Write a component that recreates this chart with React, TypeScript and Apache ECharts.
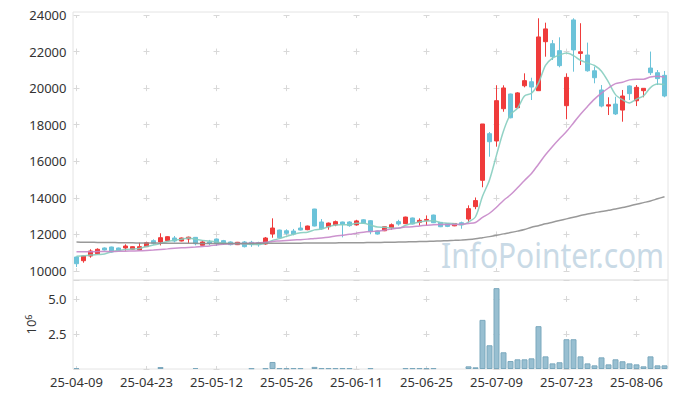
import React, { useEffect, useRef } from 'react';
import * as echarts from 'echarts';

const dates = ['25-04-09','25-04-10','25-04-11','25-04-14','25-04-15','25-04-16','25-04-17','25-04-18','25-04-21','25-04-22',
'25-04-23','25-04-24','25-04-25','25-04-28','25-04-29','25-04-30','25-05-02','25-05-07','25-05-08','25-05-09',
'25-05-12','25-05-13','25-05-14','25-05-15','25-05-16','25-05-19','25-05-20','25-05-21','25-05-22','25-05-23',
'25-05-26','25-05-27','25-05-28','25-05-29','25-05-30','25-06-02','25-06-04','25-06-05','25-06-09','25-06-10',
'25-06-11','25-06-12','25-06-13','25-06-16','25-06-17','25-06-18','25-06-19','25-06-20','25-06-23','25-06-24',
'25-06-25','25-06-26','25-06-27','25-06-30','25-07-01','25-07-02','25-07-03','25-07-04','25-07-07','25-07-08',
'25-07-09','25-07-10','25-07-11','25-07-14','25-07-15','25-07-16','25-07-17','25-07-18','25-07-21','25-07-22',
'25-07-23','25-07-24','25-07-25','25-07-28','25-07-29','25-07-30','25-07-31','25-08-01','25-08-04','25-08-05',
'25-08-06','25-08-07','25-08-08','25-08-11','25-08-12'];

const opens = [10766,10563,10820,10946,11258,11313,11258,11258,11187,11150,
11330,11658,11587,11658,11805,11640,11750,11840,11405,11590,
11750,11660,11587,11440,11587,11570,11550,11476,12020,12240,
12200,12185,12350,12260,13390,12680,12420,12520,12680,12680,
12520,12800,12750,12190,12200,12370,12700,12590,12900,12660,
12770,13060,12660,12590,12470,12640,12840,13520,14960,17510,
17110,18875,19680,18930,20130,20350,19860,22540,22430,22050,
19040,23730,21900,21810,20950,19900,19020,19130,18800,20120,
19310,19860,21100,20845,20700];

const closes = [10399,10820,11094,11187,11148,11039,11112,11367,11330,11330,
11548,11515,11822,11876,11640,11805,11850,11490,11587,11500,
11500,11515,11440,11570,11330,11440,11440,11805,12350,11820,
12060,12020,12240,12460,12460,12310,12620,12700,12550,12480,
12740,12620,12150,12020,12420,12530,12570,12950,12570,12770,
12820,12640,12420,12440,12600,12530,13410,13850,18040,17070,
19315,20010,18380,19740,20410,20060,22800,23240,21720,21230,
20590,22090,21990,20950,20570,19020,19090,18590,19570,19700,
20045,19990,20845,20520,19570];

const lows = [10219,10454,10727,10913,11120,11010,11090,11112,11170,11130,
11310,11440,11400,11640,11570,11620,11515,11405,11390,11405,
11367,11440,11400,11420,11290,11320,11330,11440,11820,11800,
11980,11950,12220,12230,12440,12260,12260,12450,11840,12420,
12480,12600,12010,11990,12180,12260,12480,12570,12550,12480,
12480,12620,12400,12400,12450,12310,12660,13380,14580,16250,
16800,18710,18350,18900,20045,19350,19860,21720,21540,21140,
18300,20900,21265,20900,20265,18950,18530,18530,18165,19350,
19020,19500,20720,20170,19500];

const highs = [10790,10840,11187,11241,11290,11330,11280,11460,11350,11548,
11603,11733,12062,11900,11914,11830,11880,11860,11680,11700,
11780,11700,11620,11590,11640,11650,11600,11860,12880,12260,
12280,12300,12680,12480,13400,12840,12650,12760,12700,12720,
12800,12830,12780,12210,12440,12600,12800,12970,12920,12880,
13040,13080,12680,12620,12620,12700,13590,14020,18040,17600,
20155,20155,19700,19780,20810,20570,23820,23580,22630,22780,
20810,23820,23550,22490,21170,20170,19500,19530,19900,20150,
20170,20000,22000,20990,20940];

// volume in millions (10^6)
const volumes = [0.07,0,0,0,0,0,0,0,0,0,
0,0,0.14,0,0,0,0,0.07,0,0,
0,0,0,0,0,0.05,0,0.05,0.5,0.06,
0.06,0.06,0.06,0,0.15,0.06,0.06,0.06,0.06,0.06,
0,0,0.06,0,0,0,0,0.06,0.06,0.06,
0.06,0.06,0,0,0,0,0.19,0.12,3.5,1.69,
5.76,1.19,0.57,0.69,0.69,0.76,3.05,0.9,0.4,0.48,
2.12,2.12,0.9,0.4,0.26,0.83,0.33,0.69,0.55,0.4,
0.33,0.19,0.9,0.26,0.26];

const ma5 = [10800,10830,10870,10900,10930,11058,11116,11171,11199,11236,
11337,11418,11509,11618,11680,11732,11799,11732,11674,11646,
11585,11518,11508,11505,11471,11459,11444,11517,11673,11771,
11895,12011,12098,12120,12248,12298,12418,12510,12528,12532,
12618,12618,12508,12402,12390,12348,12338,12498,12608,12678,
12736,12750,12644,12618,12584,12526,12680,12966,14086,14980,
16337,17657,18563,18903,19571,19720,20278,21250,21646,21810,
21916,21774,21524,21370,21238,20924,20324,19644,19368,19194,
19399,19579,20030,20220,20194];

const ma20 = [11050,11050,11055,11060,11065,11070,11075,11085,11095,11105,
11125,11150,11180,11210,11240,11265,11290,11315,11345,11373,
11428,11463,11480,11499,11508,11528,11545,11567,11618,11642,
11668,11693,11714,11743,11784,11809,11848,11908,11957,12006,
12068,12123,12158,12181,12235,12290,12346,12404,12415,12462,
12500,12531,12540,12539,12546,12557,12597,12654,12929,13158,
13487,13856,14168,14554,14953,15330,15841,16356,16813,17236,
17625,18097,18576,19001,19400,19724,20008,20245,20322,20453,
20490,20489,20612,20651,20609];

const ma120 = [11580,11575,11570,11565,11560,11555,11550,11545,11540,11535,
11530,11527,11524,11521,11518,11515,11513,11511,11510,11509,
11508,11508,11508,11508,11509,11510,11511,11512,11514,11516,
11518,11520,11523,11526,11529,11532,11535,11538,11541,11544,
11547,11550,11555,11560,11566,11572,11580,11590,11600,11610,
11620,11632,11645,11660,11675,11695,11720,11760,11820,11880,
11950,12030,12100,12180,12270,12390,12480,12580,12670,12760,
12850,12940,13030,13120,13190,13250,13320,13390,13470,13560,
13650,13740,13830,13950,14065];

const priceRange = [10000, 24000];
const priceStep = 2000;
const volumeTickLabels = [2.5, 5.0];
const watermark = 'InfoPointer.com';

export default function App() {
  const ref = useRef<HTMLDivElement>(null);
  useEffect(() => {
    document.body.style.margin = '0';
    const chart = echarts.init(ref.current!, null, { renderer: 'svg' });
    const font = '"Noto Sans", sans-serif';
    const textColor = '#333';
    const frame = '#e4e4e4';
    const plus = '#d8d8d8';
    const padded = ['', ...dates, ''];
    const ohlc = dates.map((_, i) => [opens[i], closes[i], lows[i], highs[i]]);
    const volData = volumes.map((v) => (v > 0 ? v : '-'));
    const tickEvery = (i: number) => i % 10 === 1;
    const pxPer = (priceRange[1] - priceRange[0]) / 256;

    chart.setOption({
      animation: false,
      textStyle: { fontFamily: font },
      grid: [
        { left: 73, top: 12, width: 595, height: 268, show: true, borderColor: frame, borderWidth: 1, backgroundColor: 'transparent' },
        { left: 69.5, top: 15, width: 602, height: 256 },
        { left: 73, top: 280, width: 595, height: 89, show: true, borderColor: frame, borderWidth: 1, backgroundColor: 'transparent' },
        { left: 69.5, top: 280, width: 602, height: 89 },
      ],
      xAxis: [
        { gridIndex: 0, type: 'category', data: dates, boundaryGap: true, show: false },
        {
          gridIndex: 1, type: 'category', data: padded, boundaryGap: false,
          axisLine: { show: false }, axisTick: { show: false }, axisLabel: { show: false },
          splitLine: { show: true, interval: tickEvery, lineStyle: { color: plus, width: 1, type: [6, 256 / 7 - 6], dashOffset: 3 } },
        },
        { gridIndex: 2, type: 'category', data: dates, boundaryGap: true, show: false },
        {
          gridIndex: 3, type: 'category', data: padded, boundaryGap: false,
          axisLine: { show: false }, axisTick: { show: false },
          axisLabel: { interval: tickEvery, margin: 6, color: textColor, fontSize: 13, fontFamily: font },
          splitLine: { show: true, interval: tickEvery, lineStyle: { color: plus, width: 1, type: [6, 29], dashOffset: 19 } },
        },
      ],
      yAxis: [
        { gridIndex: 0, type: 'value', min: priceRange[0] - 9 * pxPer, max: priceRange[1] + 3 * pxPer, show: false },
        {
          gridIndex: 1, type: 'value', min: priceRange[0], max: priceRange[1], interval: priceStep,
          axisLine: { show: false }, axisTick: { show: false },
          axisLabel: { margin: 3, color: textColor, fontSize: 13, fontFamily: font, formatter: (v: number) => String(v) },
          splitLine: { show: true, lineStyle: { color: plus, width: 1, type: [6, 64], dashOffset: 66 } },
        },
        { gridIndex: 2, type: 'value', min: 0, max: 6.34, show: false },
        {
          gridIndex: 3, type: 'value', min: 0, max: 6.34, interval: 2.5,
          axisLine: { show: false }, axisTick: { show: false },
          axisLabel: {
            margin: 3, color: textColor, fontSize: 13, fontFamily: font,
            formatter: (v: number) => (volumeTickLabels.some((t) => Math.abs(t - v) < 1e-6) ? v.toFixed(1) : ''),
          },
          splitLine: { show: true, lineStyle: { color: plus, width: 1, type: [6, 64], dashOffset: 66 } },
          name: '{a|10}{b|6}', nameLocation: 'middle', nameRotate: 90, nameGap: 28,
          nameTextStyle: {
            rich: {
              a: { fontSize: 13, color: textColor, fontFamily: font },
              b: { fontSize: 9, color: textColor, fontFamily: font, verticalAlign: 'top' },
            },
          },
        },
      ],
      graphic: [
        {
          type: 'text', left: 441, top: 238, z: 0, scaleX: 0.88,
          style: { text: watermark, font: '34px "Noto Sans", sans-serif', fill: '#c9dae6' },
        },
      ],
      series: [
        {
          type: 'candlestick', xAxisIndex: 0, yAxisIndex: 0, data: ohlc, barWidth: 5, z: 3,
          itemStyle: { color: '#ef3b3b', color0: '#6cc3d9', borderColor: '#ef3b3b', borderColor0: '#6cc3d9', borderWidth: 1 },
        },
        {
          type: 'line', xAxisIndex: 0, yAxisIndex: 0, data: ma5, showSymbol: false, smooth: 0.3, z: 4,
          lineStyle: { color: '#86cdbf', width: 1.5, opacity: 0.9 },
        },
        {
          type: 'line', xAxisIndex: 0, yAxisIndex: 0, data: ma20, showSymbol: false, smooth: 0.3, z: 4,
          lineStyle: { color: '#c687c9', width: 1.5, opacity: 0.9 },
        },
        {
          type: 'line', xAxisIndex: 0, yAxisIndex: 0, data: ma120, showSymbol: false, smooth: 0.3, z: 4,
          lineStyle: { color: '#8e8e8e', width: 1.5, opacity: 0.9 },
        },
        {
          type: 'bar', xAxisIndex: 2, yAxisIndex: 2, data: volData, barWidth: 6,
          itemStyle: { color: '#98bfd1', borderColor: '#7ba8bd', borderWidth: 1 },
        },
      ],
    });
    return () => chart.dispose();
  }, []);
  return <div ref={ref} style={{ width: 677, height: 398 }} />;
}
